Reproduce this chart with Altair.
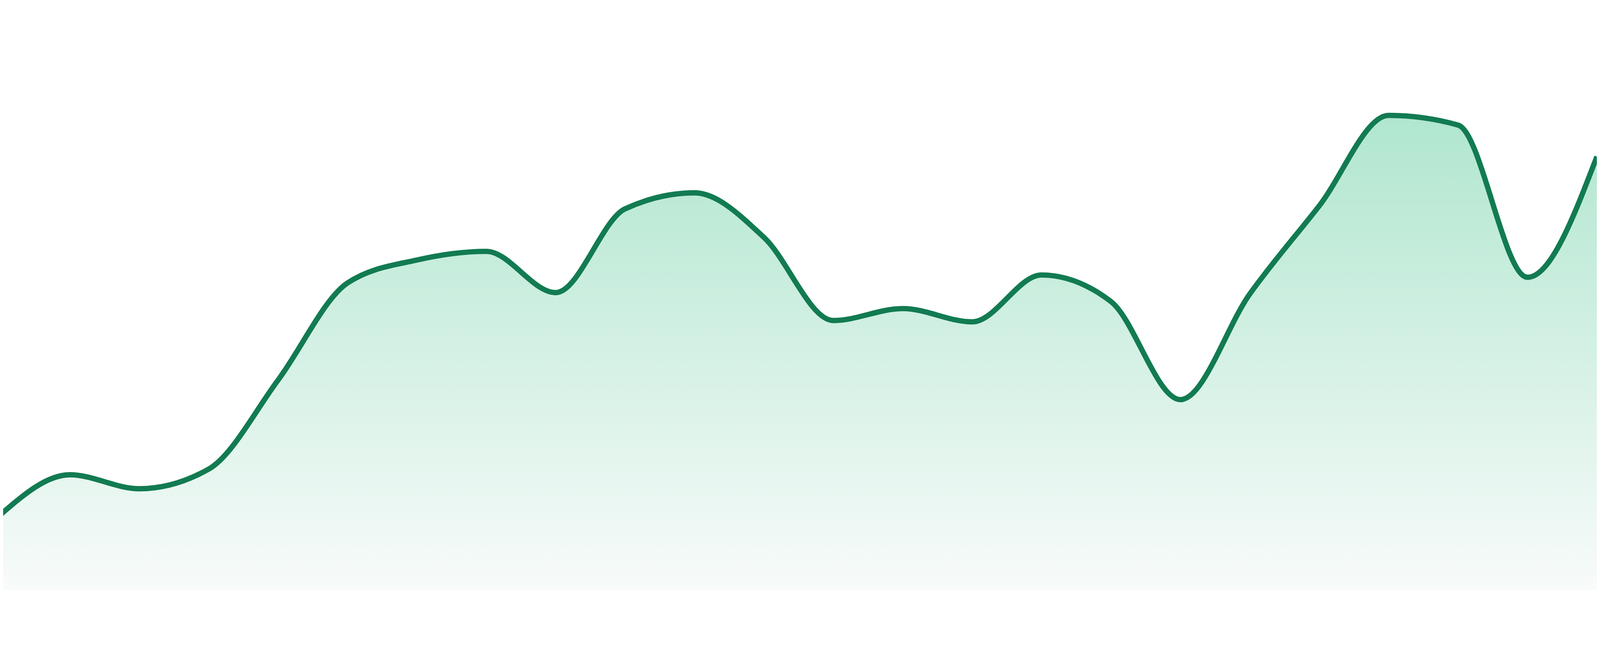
import altair as alt
import pandas as pd

steps = list(range(24))
values = [227, 347, 305, 364, 632, 924, 993, 1019, 895, 1147, 1195, 1061,
          811, 847, 807, 948, 868, 573, 891, 1156, 1428, 1399, 941, 1304]

df = pd.DataFrame({"t": steps, "v": values})

STEP_PX = 4800 / 23.0
x_lo = 8 / STEP_PX
x_hi = 23

base = alt.Chart(df).encode(
    x=alt.X("t:Q", scale=alt.Scale(domain=[x_lo, x_hi], nice=False, zero=False), axis=None),
    y=alt.Y("v:Q", scale=alt.Scale(domain=[0, 1624], nice=False, zero=True), axis=None),
)

area = base.mark_area(
    interpolate="monotone",
    clip=True,
    fill=alt.Gradient(
        gradient="linear",
        x1=0, x2=0, y1=0, y2=1,
        stops=[
            alt.GradientStop(color="#b0e6cf", offset=0),
            alt.GradientStop(color="#f8fbfa", offset=1),
        ],
    ),
)

line = base.mark_line(
    interpolate="monotone",
    clip=True,
    color="#127b51",
    strokeWidth=16,
)

chart = (
    (area + line)
    .properties(width=4792, height=1624, padding=0, background="white")
    .configure_view(stroke=None)
)

chart.save("out.html", embed_options={"renderer": "svg", "actions": False})
